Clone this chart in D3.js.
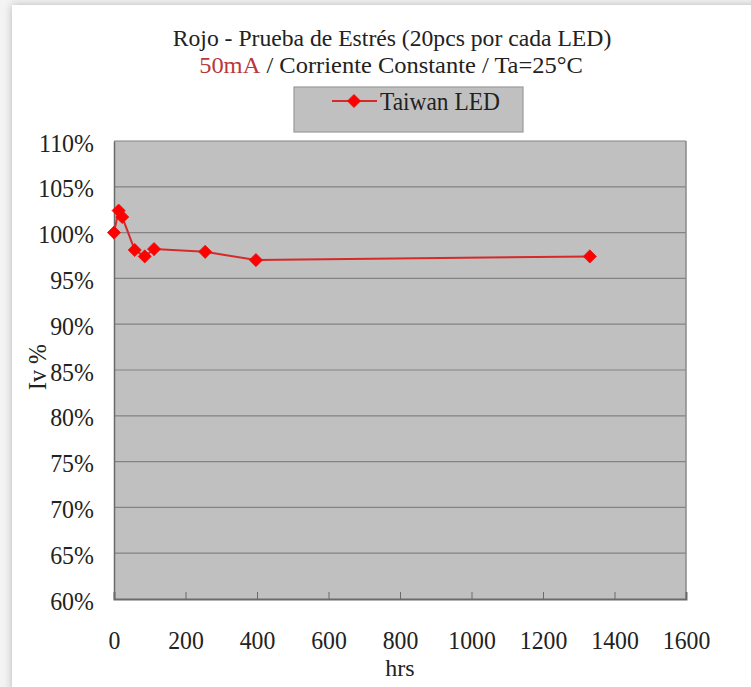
<!DOCTYPE html>
<html>
<head>
<meta charset="utf-8">
<script src="https://cdn.jsdelivr.net/npm/d3@7"></script>
<style>
  html, body { margin: 0; padding: 0; background: #eeeeee; }
  svg { display: block; }
</style>
</head>
<body>
<svg id="chart" width="751" height="687"></svg>
<script>
// ---- data ----
const hours = [0, 13, 23, 58, 86, 112, 255, 397, 1331];
const ivPercent = [100, 102.4, 101.7, 98.1, 97.4, 98.2, 97.9, 97.0, 97.4];
const seriesName = "Taiwan LED";
const xTicks = [0, 200, 400, 600, 800, 1000, 1200, 1400, 1600];
const yTicks = [60, 65, 70, 75, 80, 85, 90, 95, 100, 105, 110];
const titleLine1 = "Rojo - Prueba de Estrés (20pcs por cada LED)";
const titleRed = "50mA";
const titleRest = " / Corriente Constante / Ta=25°C";
const xTitle = "hrs";
const yTitle = "Iv %";

const FONT = '"Liberation Serif", "DejaVu Serif", serif';
const svg = d3.select("#chart");
const W = 751, H = 687;
const plot = { left: 114, right: 686, top: 141, bottom: 599 };

// page background / card
const defs = svg.append("defs");
const f = defs.append("filter").attr("id", "sh").attr("x", "-5%").attr("y", "-5%").attr("width", "110%").attr("height", "110%");
f.append("feGaussianBlur").attr("in", "SourceAlpha").attr("stdDeviation", 4);
f.append("feComponentTransfer").append("feFuncA").attr("type", "linear").attr("slope", 0.25);
const fm = f.append("feMerge");
fm.append("feMergeNode");
fm.append("feMergeNode").attr("in", "SourceGraphic");
svg.append("rect").attr("width", W).attr("height", H).attr("fill", "#f3f3f3");
svg.append("rect").attr("x", 12).attr("y", 5).attr("width", W).attr("height", H)
  .attr("fill", "#ffffff").attr("filter", "url(#sh)");

const x = d3.scaleLinear().domain([0, 1600]).range([plot.left, plot.right]);
const y = d3.scaleLinear().domain([60, 110]).range([plot.bottom, plot.top]);

function styleText(sel, size) {
  sel.style("font-family", FONT).style("font-size", size + "px").attr("fill", "#222");
}
function condense(sel, k) {
  sel.each(function () {
    const len = this.getComputedTextLength();
    d3.select(this).attr("textLength", len * k).attr("lengthAdjust", "spacingAndGlyphs");
  });
}

// plot background
svg.append("rect")
  .attr("x", plot.left).attr("y", plot.top)
  .attr("width", plot.right - plot.left).attr("height", plot.bottom - plot.top)
  .attr("fill", "#c0c0c0");

// gridlines
svg.append("g").selectAll("line").data(yTicks.filter(d => d !== 60)).join("line")
  .attr("x1", plot.left).attr("x2", plot.right)
  .attr("y1", d => y(d)).attr("y2", d => y(d))
  .attr("stroke", "#838383").attr("stroke-width", 1.2);

// frame right
svg.append("line").attr("x1", plot.right).attr("x2", plot.right)
  .attr("y1", plot.top).attr("y2", plot.bottom)
  .attr("stroke", "#8a8a8a").attr("stroke-width", 1.5);

// x axis
const xAxis = d3.axisBottom(x).tickValues(xTicks).tickSize(-7).tickFormat(d3.format("d")).tickPadding(0);
const gx = svg.append("g").attr("transform", `translate(0,${plot.bottom})`).call(xAxis);
gx.select(".domain").attr("stroke", "#6a6a6a").attr("stroke-width", 2);
gx.selectAll(".tick line").attr("stroke", "#6a6a6a").attr("stroke-width", 1);
const xl = gx.selectAll(".tick text").attr("y", 50).attr("dy", 0);
styleText(xl, 25);
condense(xl, 0.95);

// y axis
const yAxis = d3.axisLeft(y).tickValues(yTicks).tickSize(0).tickFormat(d => d + "%").tickPadding(20);
const gy = svg.append("g").attr("transform", `translate(${plot.left},0)`).call(yAxis);
gy.select(".domain").attr("stroke", "#6a6a6a").attr("stroke-width", 1.5);
const yl = gy.selectAll(".tick text").attr("dy", "0.39em");
styleText(yl, 26);
condense(yl, 0.92);

// axis titles
const xt = svg.append("text").attr("x", (plot.left + plot.right) / 2).attr("y", 676)
  .attr("text-anchor", "middle").text(xTitle);
styleText(xt, 24);
const yt = svg.append("text").attr("transform", "translate(46,367) rotate(-90)")
  .attr("text-anchor", "middle").text(yTitle);
styleText(yt, 26);
condense(yt, 0.92);

// series
const pts = hours.map((h, i) => [h, ivPercent[i]]);
svg.append("path").datum(pts)
  .attr("fill", "none").attr("stroke", "#d42a2a").attr("stroke-width", 2)
  .attr("d", d3.line().x(d => x(d[0])).y(d => y(d[1])));
const diamond = d3.symbol().type(d3.symbolDiamond2).size(110);
svg.append("g").selectAll("path").data(pts).join("path")
  .attr("transform", d => `translate(${x(d[0])},${y(d[1])})`)
  .attr("d", diamond).attr("fill", "#ff0000").attr("stroke", "#e81010").attr("stroke-width", 0.8);

// title
const t1 = svg.append("text").attr("x", 392).attr("y", 46).attr("text-anchor", "middle").text(titleLine1);
styleText(t1, 24);
condense(t1, 0.985);
const t2g = svg.append("g").attr("transform", "translate(391,73) scale(1.02,1)");
const t2 = t2g.append("text").attr("x", 0).attr("y", 0).attr("text-anchor", "middle");
styleText(t2, 24);
t2.append("tspan").attr("fill", "#b8393b").text(titleRed);
t2.append("tspan").text(titleRest);

// legend
const lg = svg.append("g");
lg.append("rect").attr("x", 294).attr("y", 87).attr("width", 229).attr("height", 45)
  .attr("fill", "#c0c0c0").attr("stroke", "#9a9a9a").attr("stroke-width", 1.2);
lg.append("line").attr("x1", 332).attr("x2", 377).attr("y1", 101).attr("y2", 101)
  .attr("stroke", "#d42a2a").attr("stroke-width", 2);
lg.append("path").attr("transform", "translate(354,101)").attr("d", diamond)
  .attr("fill", "#ff0000").attr("stroke", "#e81010").attr("stroke-width", 0.8);
const lt = lg.append("text").attr("x", 380).attr("y", 110).text(seriesName);
styleText(lt, 26);
condense(lt, 0.9);
</script>
</body>
</html>
